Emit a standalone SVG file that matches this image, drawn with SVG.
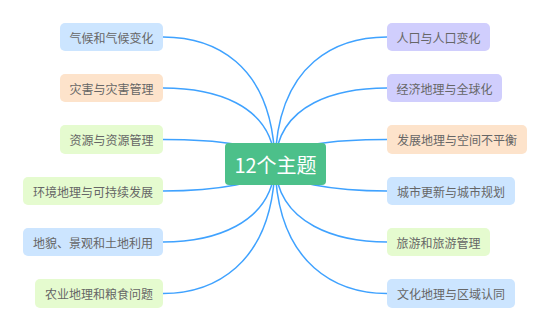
<svg xmlns="http://www.w3.org/2000/svg" width="550" height="331" viewBox="0 0 550 331">
<style>
.n text{font-family:"Noto Sans CJK SC","Noto Sans",sans-serif;font-size:12px;fill:#666;text-anchor:middle;dominant-baseline:central}
.c path{fill:none;stroke:#3fa2ff;stroke-width:1.5}
.blue{fill:#cce5ff}.peach{fill:#fde3cb}.green{fill:#e5fbcf}.lav{fill:#d0cefd}
</style>
<rect width="550" height="331" fill="#fff"/>
<g class="c" id="connectors">
<path d="M163 37 C210 37 273 60 275 164"/>
<path d="M163 88 C210 88 273 102 275 164"/>
<path d="M163 139.5 C210 139.5 273 144 275 164"/>
<path d="M163 191 C210 191 273 184 275 164"/>
<path d="M163 242 C210 242 273 226 275 164"/>
<path d="M163 293.5 C210 293.5 273 268 275 164"/>
<path d="M387 37 C340 37 277 60 275 164"/>
<path d="M387 88 C340 88 277 102 275 164"/>
<path d="M387 139.5 C340 139.5 277 144 275 164"/>
<path d="M387 191 C340 191 277 184 275 164"/>
<path d="M387 242 C340 242 277 226 275 164"/>
<path d="M387 293.5 C340 293.5 277 268 275 164"/>
</g>
<g id="center">
<rect x="225" y="143" width="101" height="42" rx="4" fill="#4cc08a"/>
<text x="275.5" y="164.5" font-family="'Noto Sans CJK SC','Noto Sans',sans-serif" font-size="20" fill="#fff" text-anchor="middle" dominant-baseline="central">12个主题</text>
</g>
<g class="n" id="n1"><rect class="blue" x="60" y="23" width="103" height="28" rx="5"/><text x="111.5" y="37">气候和气候变化</text></g>
<g class="n" id="n2"><rect class="peach" x="60" y="74" width="103" height="28" rx="5"/><text x="111.5" y="88">灾害与灾害管理</text></g>
<g class="n" id="n3"><rect class="green" x="60" y="125" width="103" height="29" rx="5"/><text x="111.5" y="139.5">资源与资源管理</text></g>
<g class="n" id="n4"><rect class="green" x="23" y="177" width="140" height="28" rx="5"/><text x="93" y="191">环境地理与可持续发展</text></g>
<g class="n" id="n5"><rect class="blue" x="23" y="228" width="140" height="28" rx="5"/><text x="93" y="242">地貌、景观和土地利用</text></g>
<g class="n" id="n6"><rect class="green" x="35" y="279" width="128" height="29" rx="5"/><text x="99" y="293.5">农业地理和粮食问题</text></g>
<g class="n" id="n7"><rect class="lav" x="387" y="23" width="103" height="28" rx="5"/><text x="438.5" y="37">人口与人口变化</text></g>
<g class="n" id="n8"><rect class="lav" x="387" y="74" width="115" height="28" rx="5"/><text x="444.5" y="88">经济地理与全球化</text></g>
<g class="n" id="n9"><rect class="peach" x="387" y="125" width="140" height="29" rx="5"/><text x="457" y="139.5">发展地理与空间不平衡</text></g>
<g class="n" id="n10"><rect class="blue" x="387" y="177" width="128" height="28" rx="5"/><text x="451" y="191">城市更新与城市规划</text></g>
<g class="n" id="n11"><rect class="green" x="387" y="228" width="103" height="28" rx="5"/><text x="438.5" y="242">旅游和旅游管理</text></g>
<g class="n" id="n12"><rect class="blue" x="387" y="279" width="128" height="29" rx="5"/><text x="451" y="293.5">文化地理与区域认同</text></g>
</svg>
